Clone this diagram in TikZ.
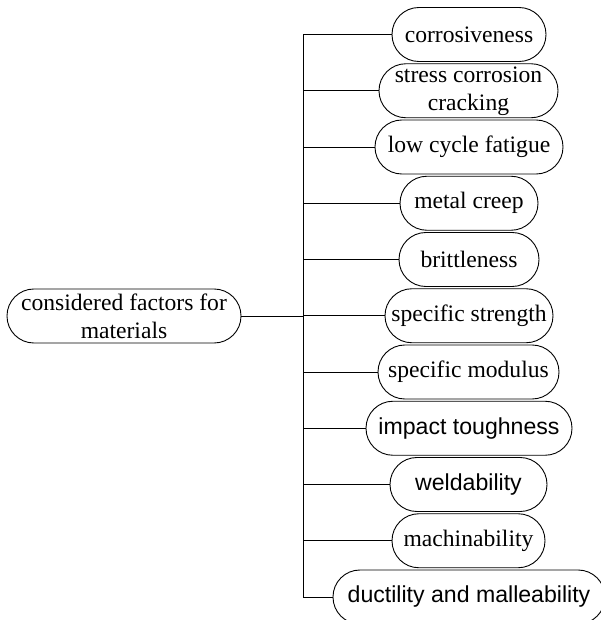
\documentclass[tikz,border=0pt]{standalone}
\usepackage{fontspec}
\setmainfont{Liberation Serif}
\newfontfamily\arialfont{Liberation Sans}
\begin{document}
\begin{tikzpicture}[x=1pt,y=1pt,
  pill/.style={draw=black, line width=0.9pt, rounded corners=26.9pt, minimum height=54pt, inner sep=0pt, align=center, font=\fontsize{23.6}{28}\selectfont},
  sanspill/.style={pill, font=\arialfont\fontsize{23.1}{28}\selectfont},
  link/.style={draw=black, line width=0.9pt}]
\useasboundingbox (0,0) rectangle (601,-620);
\node[pill, minimum width=234pt] (root) at (124,-316) {considered factors for\\materials};
\node[pill, minimum width=154pt] (c1) at (469,-34.5) {corrosiveness};
\node[pill, minimum width=179pt] (c2) at (468.5,-90.75) {stress corrosion\\cracking};
\node[pill, minimum width=188pt] (c3) at (469,-147) {low cycle fatigue};
\node[pill, minimum width=138pt] (c4) at (469,-203.25) {metal creep};
\node[pill, minimum width=140pt] (c5) at (469,-259.5) {brittleness};
\node[pill, minimum width=168pt] (c6) at (469,-315.75) {specific strength};
\node[pill, minimum width=181pt] (c7) at (468.5,-372) {specific modulus};
\node[sanspill, minimum width=206pt] (c8) at (469,-428.25) {impact toughness};
\node[sanspill, minimum width=157pt] (c9) at (468.5,-484.5) {weldability};
\node[pill, minimum width=153pt] (c10) at (468.5,-540.75) {machinability};
\node[sanspill, minimum width=272pt] (c11) at (469,-597) {ductility and malleability};
\coordinate (top) at (303,-34.5);
\coordinate (bot) at (303,-597);
\draw[link] (top) -- (bot);
\draw[link] (root.east) -- (root.east -| top);
\foreach \n in {c1,c2,c3,c4,c5,c6,c7,c8,c9,c10,c11}
  \draw[link] (\n.west) -- (\n.west -| top);
\end{tikzpicture}
\end{document}
